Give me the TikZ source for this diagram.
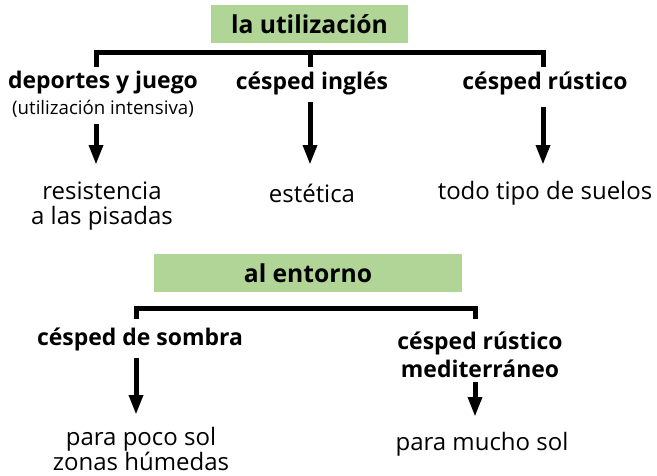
\documentclass[tikz,border=0pt]{standalone}
\usepackage{fontspec}
\setmainfont{Open Sans}
\usetikzlibrary{arrows.meta}
\definecolor{boxgreen}{RGB}{176,213,150}
\tikzset{
  hdr/.style={fill=boxgreen, minimum height=28.5pt, font=\fontsize{18.5}{21}\selectfont\bfseries, inner sep=0pt},
  lbl/.style={font=\fontsize{17.2}{21}\selectfont\bfseries, inner sep=0pt, align=center},
  sub/.style={font=\fontsize{14}{16}\selectfont, inner sep=0pt},
  txt/.style={font=\fontsize{18}{18.75}\selectfont, inner sep=0pt, align=center},
  brk/.style={line width=3.75pt},
  arr/.style={line width=3.75pt, -{Triangle[width=10pt,length=15pt]}},
}
\begin{document}
\begin{tikzpicture}[x=0.75pt,y=-0.75pt]
\useasboundingbox (0,0) rectangle (657,475);
% top
\node[hdr, minimum width=147.75pt] (h1) at (309.5,24) {la utilización};
\coordinate (b1l) at (96,67);
\coordinate (b1m) at (310,67);
\coordinate (b1r) at (543,67);
\draw[brk] (b1l) -- (96,52.5) -- (543,52.5) -- (b1r);
\draw[brk] (310,52.5) -- (b1m);
\node[lbl] (dep) at (103,83) {deportes y juego};
\node[sub] (int) at (103,109) {(utilización intensiva)};
\node[lbl] (ing) at (312,83) {césped inglés};
\node[lbl] (rus) at (545,83) {césped rústico};
\node[txt] (res) at (102,206.5) {resistencia\\a las pisadas};
\node[txt] (est) at (312,193) {estética};
\node[txt] (tod) at (545,193) {todo tipo de suelos};
\coordinate (a1s) at (96,124);
\coordinate (a1e) at (96,165);
\coordinate (a2s) at (310,102);
\coordinate (a2e) at (310,165);
\coordinate (a3s) at (543,107);
\coordinate (a3e) at (543,165);
\draw[arr] (a1s) -- (a1e);
\draw[arr] (a2s) -- (a2e);
\draw[arr] (a3s) -- (a3e);
% bottom
\node[hdr, minimum width=231pt] (h2) at (308,273) {al entorno};
\coordinate (b2l) at (136,319);
\coordinate (b2r) at (475,319);
\draw[brk] (b2l) -- (136,308) -- (475,308) -- (b2r);
\node[lbl] (som) at (140,339) {césped de sombra};
\node[lbl] (med) at (480,355) {césped rústico\\mediterráneo};
\node[txt] (poc) at (141,449) {para poco sol\\zonas húmedas};
\node[txt] (muc) at (482,444) {para mucho sol};
\coordinate (a4s) at (136,358);
\coordinate (a4e) at (136,415);
\coordinate (a5s) at (475,382);
\coordinate (a5e) at (475,417);
\draw[arr] (a4s) -- (a4e);
\draw[arr] (a5s) -- (a5e);
\end{tikzpicture}
\end{document}
